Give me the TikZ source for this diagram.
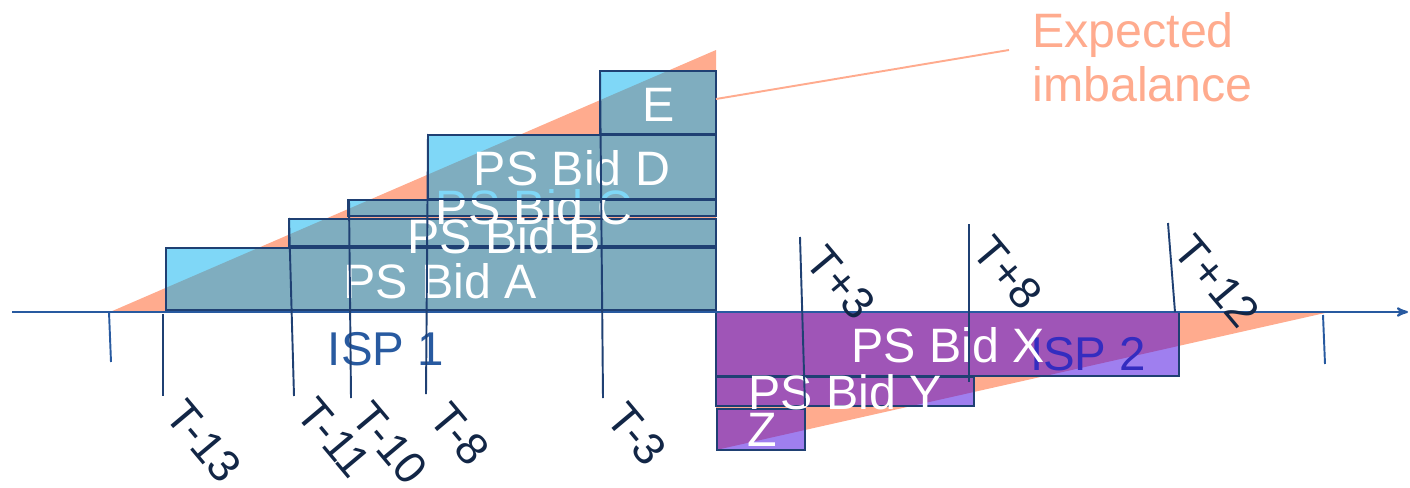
\documentclass[tikz,border=0pt]{standalone}
\usepackage{fontspec}
\setmainfont{Liberation Sans}
\usetikzlibrary{arrows}
\usetikzlibrary{calc,positioning}

\definecolor{imbal}{RGB}{255,171,142}
\definecolor{psblue}{RGB}{0,176,240}
\definecolor{psviolet}{RGB}{64,0,224}
\definecolor{boxline}{RGB}{31,64,115}
\definecolor{axisblue}{RGB}{40,90,160}
\definecolor{ticktext}{RGB}{18,38,70}

\begin{document}
\begin{tikzpicture}[x=0.02cm,y=-0.02cm,>=stealth',
  bidbox/.style={draw=boxline, line width=1.1pt, fill=psblue, fill opacity=0.5},
  bidbox2/.style={draw=boxline, line width=1.1pt, fill=psviolet, fill opacity=0.5},
  bidlbl/.style={text=white, inner sep=0pt, font=\fontsize{27.5}{30}\selectfont},
  isplbl/.style={text=axisblue, inner sep=0pt, font=\fontsize{27}{30}\selectfont},
  ticklbl/.style={text=ticktext, inner sep=0pt, rotate=-50, font=\fontsize{25.5}{27}\selectfont},
  tickline/.style={draw=boxline, line width=1.1pt}]

\useasboundingbox (0,0) rectangle (1410,487);

\fill[imbal] (110,312) -- (716,50) -- (716,312) -- cycle;
\fill[imbal] (716,313) -- (1325,313) -- (716,450) -- cycle;

\filldraw[bidbox] (166,248) rectangle (716,310);
\node[bidlbl] (bida) at (440,281) {PS Bid A};
\filldraw[bidbox] (289,219) rectangle (716,246);
\node[bidlbl] (bidb) at (504,236) {PS Bid B};
\filldraw[bidbox] (348,200) rectangle (716,216);
\node[bidlbl] (bidc) at (534,207) {PS Bid C};
\filldraw[bidbox] (428,135) rectangle (716,199);
\node[bidlbl] (bidd) at (572,168) {PS Bid D};
\filldraw[bidbox] (600,71) rectangle (716,134);
\node[bidlbl] (bide) at (659,105) {E};

\node[isplbl] (isp2) at (1088,354) {ISP 2};
\filldraw[bidbox2] (716,312) rectangle (1179,376);
\filldraw[bidbox2] (716,377) rectangle (974,406);
\filldraw[bidbox2] (717,409) rectangle (805,450);

\coordinate (axisl) at (12,312);
\coordinate (axisr) at (1408,312);
\draw[->, axisblue, line width=1.2pt] (axisl) -- (axisr);

\node[isplbl] (isp1) at (386,349) {ISP 1};
\node[bidlbl] (bidx) at (948,345) {PS Bid X};
\node[bidlbl] (bidy) at (845,392) {PS Bid Y};
\node[bidlbl] (bidz) at (762,430) {Z};

\draw[axisblue, line width=1.1pt] (109,312) -- (111,362);
\draw[axisblue, line width=1.1pt] (1323,315) -- (1325,364);
\draw[tickline] (163,314) -- (163,396);
\draw[tickline] (289,218) -- (294,396);
\draw[tickline] (349,200) -- (351,398);
\draw[tickline] (428,134) -- (426,394);
\draw[tickline] (600,71) -- (603,398);
\draw[tickline] (800,237) -- (805,406);
\draw[tickline] (969,224) -- (969,382);
\draw[tickline] (1168,223) -- (1175,312);

\node[ticklbl] (tm13) at (204,441) {T-13};
\node[ticklbl] (tm11) at (334,438) {T-11};
\node[ticklbl] (tm10) at (390,443) {T-10};
\node[ticklbl] (tm8) at (460,434) {T-8};
\node[ticklbl] (tm3) at (637,434) {T-3};
\node[ticklbl] (tp3) at (841,283) {T+3};
\node[ticklbl] (tp8) at (1008,273) {T+8};
\node[ticklbl] (tp12) at (1217,281) {T+12};

\node[text=imbal, inner sep=0pt, align=left, anchor=north west,
  font=\fontsize{27.5}{31}\selectfont] (imbtxt) at (1032,12) {Expected\\imbalance};
\coordinate (ecall) at (716,99);
\coordinate (calltip) at (1009,50);
\draw[imbal, line width=1.1pt] (ecall) -- (calltip);

\end{tikzpicture}
\end{document}
